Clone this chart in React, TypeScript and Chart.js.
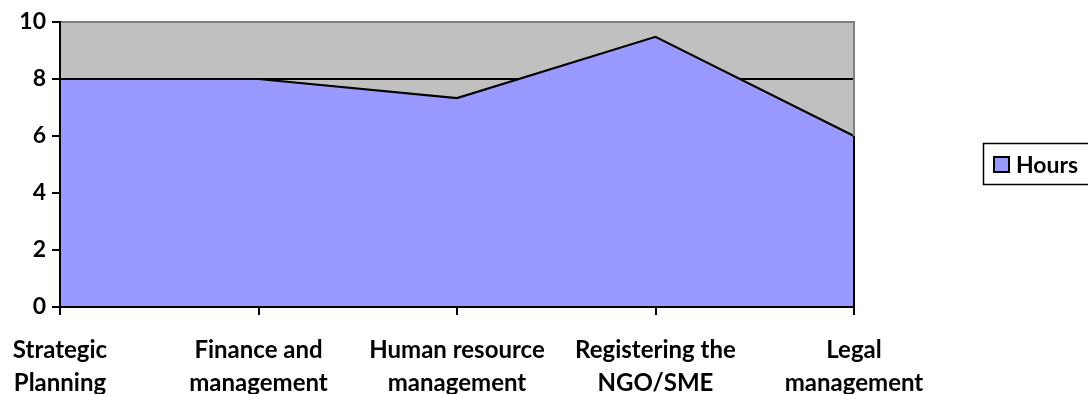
import React, { useEffect, useRef } from "react";
import { Chart, registerables } from "chart.js";

Chart.register(...registerables);

const categories: string[][] = [
  ["Strategic", "Planning"],
  ["Finance and", "management"],
  ["Human resource", "management"],
  ["Registering the", "NGO/SME"],
  ["Legal", "management"],
];
const hours: number[] = [8, 8, 7.33, 9.48, 6];
const seriesLabel = "Hours";
const yTicks: number[] = [0, 2, 4, 6, 8, 10];

const FONT = "Lato, 'Open Sans', sans-serif";
const FILL = "#9999FF";
const PLOT_BG = "#C0C0C0";

// Grey plot background plus the frame and legend drawn around it
const framePlugin = {
  id: "frame",
  beforeDraw(chart: any) {
    const { ctx, chartArea } = chart;
    ctx.save();
    ctx.fillStyle = PLOT_BG;
    ctx.fillRect(chartArea.left, chartArea.top, chartArea.right - chartArea.left, chartArea.bottom - chartArea.top);
    ctx.restore();
  },
  afterDatasetsDraw(chart: any) {
    const { ctx, chartArea } = chart;
    const meta = chart.getDatasetMeta(0);
    const last = meta.data[meta.data.length - 1];
    ctx.save();
    ctx.lineWidth = 2;
    ctx.strokeStyle = "#808080";
    ctx.beginPath();
    ctx.moveTo(chartArea.right, chartArea.top - 1);
    ctx.lineTo(chartArea.right, chartArea.bottom);
    ctx.stroke();
    // closing edge of the area at the last category
    ctx.strokeStyle = "#000";
    ctx.beginPath();
    ctx.moveTo(last.x, last.y);
    ctx.lineTo(last.x, chartArea.bottom);
    ctx.stroke();
    ctx.restore();
  },
  afterDraw(chart: any) {
    const { ctx } = chart;
    ctx.save();
    // legend box
    ctx.lineWidth = 1.5;
    ctx.strokeStyle = "#000";
    ctx.strokeRect(983.5, 143.5, 140, 41);
    ctx.fillStyle = FILL;
    ctx.fillRect(994, 157, 15, 15);
    ctx.lineWidth = 2;
    ctx.strokeRect(994, 157, 15, 15);
    ctx.fillStyle = "#000";
    ctx.font = `bold 23px ${FONT}`;
    ctx.textBaseline = "alphabetic";
    ctx.textAlign = "left";
    ctx.fillText(seriesLabel, 1016, 173);
    ctx.restore();
  },
};

export default function App() {
  const canvasRef = useRef<HTMLCanvasElement>(null);

  useEffect(() => {
    if (!canvasRef.current) return;
    const chart = new Chart(canvasRef.current, {
      type: "line",
      data: {
        labels: categories,
        datasets: [
          {
            label: seriesLabel,
            data: hours,
            fill: "origin",
            backgroundColor: FILL,
            borderColor: "#000",
            borderWidth: 2.2,
            pointRadius: 0,
            tension: 0,
          },
        ],
      },
      options: {
        animation: false,
        responsive: true,
        maintainAspectRatio: false,
        color: "#000",
        layout: { padding: { top: 22, right: 234, left: 0, bottom: 0 } },
        plugins: {
          legend: { display: false },
          tooltip: { enabled: false },
        },
        scales: {
          x: {
            offset: false,
            afterFit(scale: any) {
              scale.height = 87;
              scale.paddingLeft = 0;
              scale.paddingRight = 0;
            },
            grid: {
              drawOnChartArea: false,
              drawTicks: true,
              tickLength: 8,
              tickColor: "#000",
              lineWidth: 2,
            },
            border: { color: "#000", width: 2, z: 1 },
            ticks: {
              color: "#000",
              maxRotation: 0,
              autoSkip: false,
              padding: 19,
              font: { family: FONT, size: 24, weight: "bold", lineHeight: 1.375 },
            },
          },
          y: {
            min: 0,
            max: 10,
            afterFit(scale: any) {
              scale.width = 60;
              scale.paddingTop = 0;
              scale.paddingBottom = 0;
            },
            afterBuildTicks(scale: any) {
              scale.ticks = yTicks.map((v) => ({ value: v }));
            },
            grid: {
              color: (c: any) => (c.tick && c.tick.value === 10 ? "#808080" : "#000"),
              lineWidth: 2,
              tickLength: 8,
              tickColor: "#000",
            },
            border: { color: "#000", width: 2, z: 1 },
            ticks: {
              color: "#000",
              padding: 6,
              font: { family: FONT, size: 23, weight: "bold" },
            },
          },
        },
      },
      plugins: [framePlugin],
    });
    return () => chart.destroy();
  }, []);

  return (
    <div style={{ position: "fixed", left: 0, top: 0, width: 1088, height: 394, background: "#fff" }}>
      <canvas ref={canvasRef} />
    </div>
  );
}
